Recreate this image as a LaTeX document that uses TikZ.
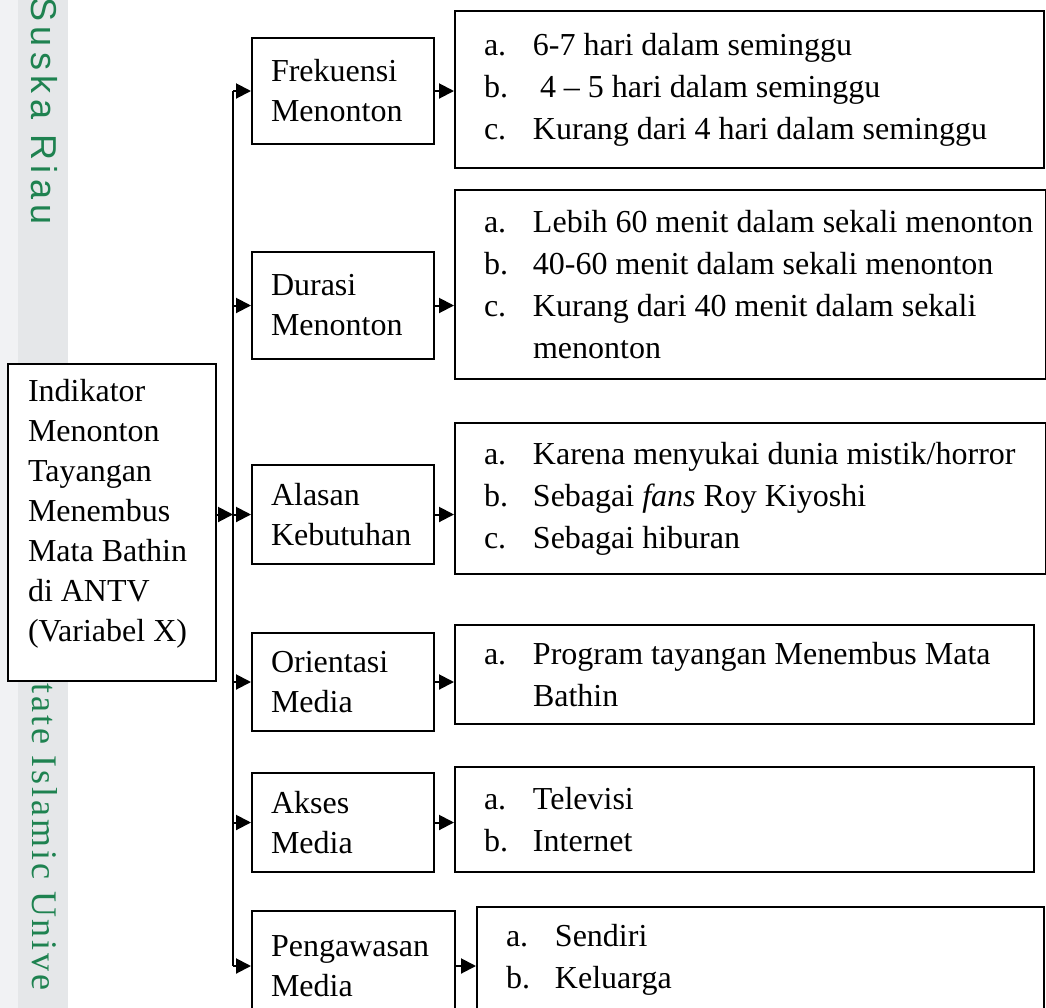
\documentclass[tikz,border=0pt]{standalone}
\usepackage{fontspec}
\setmainfont{Liberation Serif}
\newfontfamily\wmsans[LetterSpace=15]{Liberation Sans}
\newfontfamily\wmserif[LetterSpace=8]{Liberation Serif}
\usetikzlibrary{arrows.meta}
\hyphenpenalty=10000
\exhyphenpenalty=10000
\definecolor{wmgreen}{RGB}{30,130,80}
\definecolor{stripA}{RGB}{241,242,244}
\definecolor{stripB}{RGB}{229,231,233}
\newcommand{\itm}[2]{\hspace*{9.5pt}\makebox[24.5pt][l]{#1}#2}
\newcommand{\cont}[1]{\hspace*{34pt}#1}

\begin{document}
\begin{tikzpicture}[x=0.5pt,y=-0.5pt,
	box/.style={draw,fill=white,line width=1pt,align=flush left,anchor=north west,
		font=\fontsize{16}{20}\selectfont,inner ysep=0pt},
	ind/.style={box,inner xsep=10pt,text width=84pt,minimum width=104pt},
	sub/.style={box,inner xsep=9.5pt,text width=72pt,minimum width=91pt},
	lst/.style={box,inner xsep=5pt,font=\fontsize{16}{21}\selectfont},
	arr/.style={line width=1pt,-{Triangle[length=7.5pt,width=7.5pt]}},
	wm/.style={rotate=-90,anchor=west,text=wmgreen,inner sep=0pt}]
\useasboundingbox (0,0) rectangle (1046,1008);
\clip (0,0) rectangle (1046,1008);
% watermark strip
\fill[stripA] (0,0) rectangle (18,1008);
\fill[stripB] (18,0) rectangle (68,1008);
\node[wm,font=\wmsans\fontsize{18}{18}\selectfont] (wmtop) at (44,-3) {Suska Riau};
\node[wm,font=\wmserif\fontsize{18}{18}\selectfont] (wmbot) at (45,683) {tate Islamic Unive};
% indikator
\node[ind,minimum height=158.5pt] (ind) at (7,363) {Indikator\\Menonton\\Tayangan\\Menembus\\Mata Bathin\\di ANTV\\(Variabel X)\rule[-12pt]{0pt}{12pt}};
\node[sub,minimum height=53pt] (frek) at (251,37) {Frekuensi\\Menonton};
\node[sub,minimum height=53.5pt] (dur) at (251,251) {Durasi\\Menonton};
\node[sub,minimum height=49.5pt] (alas) at (251,464) {Alasan\\Kebutuhan};
\node[sub,minimum height=49pt] (ori) at (251,632) {Orientasi\\Media};
\node[sub,minimum height=49.5pt] (akses) at (251,772) {Akses\\Media};
\node[sub,minimum height=55pt,text width=82.5pt,minimum width=101.5pt] (awas) at (251,910) {Pengawasan\\Media};
% isi
\node[lst,text width=284.5pt,minimum width=294.5pt,minimum height=78.5pt] (frekisi) at (454,10)
	{\itm{a.}{6-7 hari dalam seminggu}\\\itm{b.}{\hspace{3.5pt}4 -- 5 hari dalam seminggu}\\\itm{c.}{Kurang dari 4 hari dalam seminggu}};
\node[lst,text width=285.5pt,minimum width=295.5pt,minimum height=94.5pt] (durisi) at (454,189)
	{\itm{a.}{Lebih 60 menit dalam sekali menonton}\\\itm{b.}{40-60 menit dalam sekali menonton}\\\itm{c.}{Kurang dari 40 menit dalam sekali}\\\cont{menonton}};
\node[lst,text width=285.5pt,minimum width=295.5pt,minimum height=75.5pt] (alasisi) at (454,422)
	{\itm{a.}{Karena menyukai dunia mistik/horror}\\\itm{b.}{Sebagai \textit{fans} Roy Kiyoshi}\\\itm{c.}{Sebagai hiburan}};
\node[lst,text width=279.5pt,minimum width=289.5pt,minimum height=49.5pt] (oriisi) at (454,624)
	{\itm{a.}{Program tayangan Menembus Mata}\\\cont{Bathin}};
\node[lst,text width=279.5pt,minimum width=289.5pt,minimum height=52.5pt] (aksesisi) at (454,766)
	{\itm{a.}{Televisi}\\\itm{b.}{Internet}};
\node[lst,text width=273.5pt,minimum width=283.5pt,minimum height=53pt] (awasisi) at (476,906)
	{\itm{a.}{Sendiri}\\\itm{b.}{Keluarga}};
% panah
\coordinate (trunk) at (233,0);
\draw[line width=1pt] (frek.west -| trunk) -- (awas.west -| trunk);
\foreach \n in {frek,dur,alas,ori,akses,awas}
	\draw[arr] (\n.west -| trunk) -- (\n.west);
\draw[arr] (ind.east |- alas.west) -- (alas.west -| trunk);
\foreach \n in {frek,dur,alas,ori,akses,awas}
	\draw[arr] (\n.east) -- (\n.east -| \n isi.west);
\end{tikzpicture}
\end{document}
